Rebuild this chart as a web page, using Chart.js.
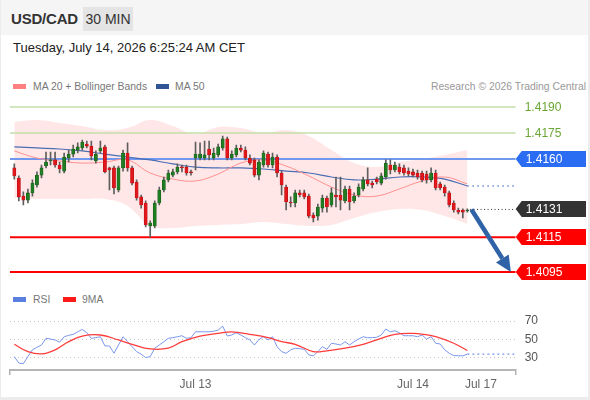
<!DOCTYPE html>
<html><head><meta charset="utf-8">
<script src="https://cdn.jsdelivr.net/npm/chart.js@4.4.1/dist/chart.umd.min.js"></script>
<style>
html,body{margin:0;padding:0;background:#ececec;}
body{width:590px;height:400px;position:relative;overflow:hidden;font-family:"Liberation Sans",Arial,sans-serif;}
#panel{position:absolute;left:1px;top:0;width:587px;height:397px;background:#fff;}
#hdr{position:absolute;left:1px;top:0;width:587px;height:35px;background:#f5f5f5;}
#sym{position:absolute;left:11px;top:10px;font-weight:bold;font-size:15px;color:#333;letter-spacing:-0.2px;}
#tf{position:absolute;left:83px;top:7px;width:50px;height:24px;background:#e4e4e4;font-size:14px;color:#333;line-height:24px;text-align:center;}
#date{position:absolute;left:13px;top:40px;font-size:13px;color:#222;}
.leg{position:absolute;font-size:10.4px;color:#777;white-space:nowrap;line-height:13px;}
.sw{position:absolute;width:13px;height:5px;}
canvas{position:absolute;left:0;}
</style></head>
<body>
<div id="panel"></div>
<div id="hdr"></div>
<div id="sym">USD/CAD</div>
<div id="tf">30 MIN</div>
<div id="date">Tuesday, July 14, 2026 6:25:24 AM CET</div>
<div class="sw" style="left:13px;top:84px;background:#ff8080;"></div>
<div class="leg" style="left:33px;top:80px;">MA 20 + Bollinger Bands</div>
<div class="sw" style="left:156px;top:84px;background:#2f5597;"></div>
<div class="leg" style="left:175px;top:80px;">MA 50</div>
<div class="leg" style="right:4px;top:80px;color:#999;">Research © 2026 Trading Central</div>
<div class="sw" style="left:13px;top:297px;background:#5b7fe0;"></div>
<div class="leg" style="left:33px;top:293px;">RSI</div>
<div class="sw" style="left:63px;top:297px;background:#ff1a1a;"></div>
<div class="leg" style="left:82px;top:293px;">9MA</div>
<canvas id="main" width="590" height="190" style="top:95px"></canvas>
<canvas id="rsiC" width="590" height="97" style="top:300px"></canvas>
<script>
// ---- data ----
const open = [1.41549,1.41491,1.41387,1.41364,1.41405,1.41451,1.41508,1.41560,1.41589,1.41595,
1.41566,1.41531,1.41606,1.41629,1.41652,1.41664,1.41687,1.41675,1.41589,1.41647,
1.41670,1.41549,1.41549,1.41422,1.41549,1.41635,1.41549,1.41468,1.41382,1.41347,
1.41215,1.41215,1.41347,1.41422,1.41480,1.41508,1.41526,1.41554,1.41554,1.41526,
1.41606,1.41606,1.41606,1.41658,1.41606,1.41624,1.41664,1.41716,1.41606,1.41624,
1.41664,1.41652,1.41606,1.41595,1.41508,1.41566,1.41629,1.41566,1.41612,1.41520,
1.41439,1.41353,1.41347,1.41405,1.41405,1.41387,1.41278,1.41272,1.41318,1.41376,
1.41336,1.41393,1.41393,1.41359,1.41428,1.41359,1.41393,1.41428,1.41480,1.41462,
1.41485,1.41462,1.41497,1.41566,1.41537,1.41554,1.41549,1.41531,1.41526,1.41520,
1.41520,1.41514,1.41480,1.41520,1.41457,1.41439,1.41405,1.41347,1.41307,1.41307,
1.41301];
const high = [1.41572,1.41503,1.41411,1.41428,1.41480,1.41526,1.41566,1.41641,1.41641,1.41641,
1.41583,1.41635,1.41652,1.41681,1.41693,1.41710,1.41704,1.41704,1.41647,1.41704,
1.41681,1.41554,1.41560,1.41560,1.41652,1.41693,1.41560,1.41480,1.41393,1.41359,
1.41244,1.41359,1.41439,1.41497,1.41537,1.41543,1.41572,1.41566,1.41566,1.41537,
1.41698,1.41693,1.41704,1.41704,1.41664,1.41687,1.41733,1.41727,1.41647,1.41681,
1.41681,1.41670,1.41624,1.41606,1.41595,1.41647,1.41641,1.41635,1.41624,1.41531,
1.41451,1.41382,1.41422,1.41422,1.41422,1.41399,1.41290,1.41341,1.41393,1.41387,
1.41434,1.41497,1.41497,1.41445,1.41445,1.41405,1.41457,1.41497,1.41549,1.41474,
1.41497,1.41520,1.41595,1.41595,1.41583,1.41572,1.41566,1.41549,1.41543,1.41537,
1.41531,1.41531,1.41549,1.41537,1.41468,1.41451,1.41416,1.41359,1.41318,1.41313,
1.41313];
const low = [1.41485,1.41359,1.41336,1.41347,1.41387,1.41439,1.41491,1.41549,1.41566,1.41554,
1.41520,1.41520,1.41583,1.41612,1.41635,1.41652,1.41664,1.41595,1.41577,1.41635,
1.41520,1.41422,1.41399,1.41411,1.41531,1.41531,1.41451,1.41364,1.41318,1.41209,
1.41151,1.41203,1.41336,1.41411,1.41468,1.41497,1.41514,1.41526,1.41508,1.41508,
1.41537,1.41595,1.41595,1.41595,1.41595,1.41612,1.41652,1.41595,1.41595,1.41612,
1.41641,1.41595,1.41566,1.41497,1.41480,1.41554,1.41554,1.41549,1.41497,1.41393,
1.41307,1.41324,1.41324,1.41382,1.41370,1.41261,1.41238,1.41249,1.41295,1.41295,
1.41324,1.41324,1.41307,1.41347,1.41307,1.41347,1.41382,1.41416,1.41445,1.41434,
1.41457,1.41451,1.41485,1.41514,1.41526,1.41514,1.41508,1.41503,1.41497,1.41485,
1.41468,1.41462,1.41468,1.41422,1.41422,1.41387,1.41324,1.41295,1.41284,1.41261,
1.41295];
const close = [1.41503,1.41382,1.41364,1.41405,1.41462,1.41508,1.41549,1.41583,1.41595,1.41566,
1.41543,1.41612,1.41629,1.41658,1.41670,1.41698,1.41675,1.41618,1.41629,1.41664,
1.41526,1.41537,1.41434,1.41549,1.41635,1.41549,1.41462,1.41376,1.41336,1.41221,
1.41232,1.41347,1.41422,1.41480,1.41520,1.41526,1.41554,1.41549,1.41520,1.41520,
1.41629,1.41629,1.41624,1.41624,1.41635,1.41670,1.41716,1.41606,1.41629,1.41664,
1.41652,1.41606,1.41577,1.41508,1.41583,1.41635,1.41566,1.41612,1.41520,1.41451,
1.41353,1.41347,1.41405,1.41393,1.41382,1.41272,1.41261,1.41324,1.41376,1.41324,
1.41405,1.41382,1.41364,1.41428,1.41353,1.41387,1.41439,1.41480,1.41457,1.41451,
1.41468,1.41503,1.41577,1.41537,1.41566,1.41526,1.41520,1.41514,1.41508,1.41497,
1.41480,1.41480,1.41520,1.41434,1.41434,1.41405,1.41336,1.41307,1.41295,1.41295,
1.41307];
// moving averages / bands, read at every 5th candle
const maIdx   = [0,5,10,15,20,25,30,35,40,45,50,55,60,65,70,75,80,85,90,95,100];
const ma20    = [1.41647,1.41606,1.41589,1.41577,1.41583,1.41595,1.41520,1.41485,1.41474,1.41514,1.41577,1.41595,1.41560,1.41503,1.41439,1.41393,1.41387,1.41428,1.41474,1.41497,1.41457];
const ma50    = [1.41670,1.41664,1.41658,1.41647,1.41629,1.41612,1.41595,1.41572,1.41554,1.41549,1.41549,1.41543,1.41531,1.41520,1.41497,1.41480,1.41485,1.41497,1.41497,1.41485,1.41445];
const bbUpper = [1.41814,1.41825,1.41808,1.41790,1.41767,1.41779,1.41825,1.41790,1.41744,1.41785,1.41779,1.41750,1.41767,1.41733,1.41652,1.41577,1.41554,1.41583,1.41601,1.41624,1.41652];
const bbLower = [1.41376,1.41370,1.41370,1.41370,1.41370,1.41330,1.41215,1.41203,1.41215,1.41221,1.41226,1.41238,1.41226,1.41215,1.41221,1.41261,1.41295,1.41313,1.41307,1.41272,1.41226];
// key levels
const resistances = [1.4190, 1.4175];
const pivot = 1.4160;
const lastPrice = 1.4131;
const supports = [1.4115, 1.4095];
// RSI panel
const rsi = [31.4,24.3,23.7,31.4,38.7,41.5,44,51.3,50.5,49.5,
47,53,54.5,55.6,58.4,61,57.4,51.3,52,53,
43,43,35,44,53,47.6,42.2,36.8,34,30.3,
31.4,40.5,44,47.6,51.3,52,53,54.1,51.3,52,
58.4,58.4,58.4,58.4,59,60.3,64.6,53.8,54.9,57.4,
54.9,52,49.5,44,50,53,49.5,53,42.2,36.8,
35,38.7,40.5,40,39.4,33.2,32.2,36.8,42.2,39.4,
45.9,45.1,44,47.6,44,47.6,50.5,53,52,52,
52.5,54.9,61.4,58.4,59.5,57.4,54.1,54.1,54.1,53,
54.9,50.5,53,45.9,45.1,38.7,35,32.5,32.3,32.2,
34];
const ma9Idx = [0,3,6,9,12,15,19,23,26,30,34,37,41,45,48,52,56,59,62,66,69,73,77,80,84,88,90,93,97,100];
const ma9    = [44.8,36.8,34.3,38.7,47.6,53.8,54.9,49.5,44.8,39.7,40.5,47.6,53.8,56.7,58.4,55.6,52,47.6,44.8,36.8,37.6,40.5,44.8,49.5,55.6,56.7,55.9,53,45.9,38];
const rsiLevels = [30, 50, 70];
const dayTickIdx = [40, 88, 103];
const dayTickLabels = ['Jul 13', 'Jul 14', 'Jul 17'];

// ---- chart ----
Chart.defaults.font.family = '"Liberation Sans", Arial, sans-serif';
const xMin = -0.95, xMax = 110.67;
const n = open.length, last = n - 1;
const idx = open.map((_, i) => i);
const isUp = idx.map(i => close[i] >= open[i]);
const pts = (xs, ys) => xs.map((x, j) => ({x, y: ys[j]}));
const hline = (v) => [{x: xMin, y: v}, {x: xMax, y: v}];
const lineDs = (data, color, w, order, extra) => Object.assign({type:'line', data, borderColor: color, borderWidth: w, pointRadius: 0, fill: false, order, tension: 0}, extra || {});

const datasets = [
  lineDs(pts(maIdx, bbUpper), 'transparent', 0, 30, {fill: '+1', backgroundColor: 'rgba(255,70,70,0.13)', tension: 0.4}),
  lineDs(pts(maIdx, bbLower), 'transparent', 0, 31, {tension: 0.4}),
  ...resistances.map(v => lineDs(hline(v), '#c3dfa9', 1.5, 20)),
  lineDs(hline(pivot), '#7098ee', 2, 20),
  ...supports.map(v => lineDs(hline(v), '#ff0000', 2, 20)),
  lineDs(pts(maIdx, ma20), '#ff8f8f', 1, 10, {tension: 0.4}),
  lineDs(pts(maIdx, ma50), '#4a6db3', 1.2, 10, {tension: 0.4}),
  lineDs([{x: last, y: ma50[ma50.length-1]}, {x: xMax, y: ma50[ma50.length-1]}], '#6a8bd6', 1.3, 10, {borderDash: [1.5, 3.5]}),
  lineDs([{x: last + 0.6, y: lastPrice}, {x: xMax, y: lastPrice}], '#333', 1, 10, {borderDash: [1, 2.5]}),
  {type:'bar', data: idx.map(i => ({x: i, y: [low[i], high[i]]})), backgroundColor: '#5e5e5e', barThickness: 1, grouped: false, order: 2},
  {type:'bar', data: idx.map(i => ({x: i, y: [open[i], close[i]]})), backgroundColor: idx.map(i => isUp[i] ? '#1f7d22' : '#e3161b'),
   borderColor: idx.map(i => isUp[i] ? '#155a17' : '#b01015'), borderWidth: 0.6, borderSkipped: false,
   barThickness: 3.2, minBarLength: 1, grouped: false, order: 1}
];

const overlay = {
  id: 'overlay',
  afterDatasetsDraw(chart) {
    const {ctx, chartArea: ca, scales: {x, y}} = chart;
    const W = chart.width;
    ctx.save();
    // forecast arrow
    const x0 = x.getPixelForValue(last + 0.9), y0 = y.getPixelForValue(lastPrice);
    const x1 = x.getPixelForValue(109.6), y1 = y.getPixelForValue(supports[1]);
    const ang = Math.atan2(y1 - y0, x1 - x0), hl = 16, hw = 7.5;
    const bx = x1 - hl * Math.cos(ang), by = y1 - hl * Math.sin(ang);
    ctx.strokeStyle = '#2f62a6'; ctx.fillStyle = '#2f62a6'; ctx.lineWidth = 4.5; ctx.lineCap = 'butt';
    ctx.beginPath(); ctx.moveTo(x0, y0); ctx.lineTo(bx, by); ctx.stroke();
    ctx.beginPath(); ctx.moveTo(x1, y1);
    ctx.lineTo(bx + hw * Math.sin(ang), by - hw * Math.cos(ang));
    ctx.lineTo(bx - hw * Math.sin(ang), by + hw * Math.cos(ang));
    ctx.closePath(); ctx.fill();
    // level labels
    ctx.font = '12px "Liberation Sans", Arial, sans-serif';
    ctx.textBaseline = 'middle';
    resistances.forEach(v => {
      ctx.fillStyle = '#6aa534';
      ctx.fillText(v.toFixed(4), ca.right + 9, y.getPixelForValue(v) + 0.5);
    });
    const tag = (v, col) => {
      const py = Math.round(y.getPixelForValue(v));
      const l = ca.right, h = 8;
      ctx.fillStyle = col;
      ctx.beginPath();
      ctx.moveTo(l, py); ctx.lineTo(l + 6, py - h); ctx.lineTo(W - 4, py - h);
      ctx.lineTo(W - 4, py + h); ctx.lineTo(l + 6, py + h); ctx.closePath(); ctx.fill();
      ctx.fillStyle = '#fff';
      ctx.fillText(v.toFixed(4), l + 10, py + 0.5);
    };
    tag(pivot, '#2a6cf2');
    tag(lastPrice, '#333333');
    supports.forEach(v => tag(v, '#ff0000'));
    ctx.restore();
  }
};

new Chart(document.getElementById('main'), {
  type: 'bar',
  data: {datasets},
  options: {
    responsive: false, animation: false, events: [],
    layout: {autoPadding: false, padding: {left: 10, right: 74.3, top: 0, bottom: 0}},
    plugins: {legend: {display: false}, tooltip: {enabled: false}},
    scales: {
      x: {type: 'linear', min: xMin, max: xMax, offset: false, display: false},
      y: {type: 'linear', min: 1.40875, max: 1.41969, display: false, beginAtZero: false}
    }
  },
  plugins: [overlay]
});

new Chart(document.getElementById('rsiC'), {
  type: 'line',
  data: {datasets: [
    lineDs(pts(idx, rsi), '#7b97ec', 1, 2),
    lineDs([{x: last, y: rsi[last]}, {x: xMax, y: rsi[last]}], '#7b97ec', 1.3, 2, {borderDash: [2, 3]}),
    lineDs(pts(ma9Idx, ma9), '#ff3c3c', 1.3, 1, {tension: 0.4})
  ]},
  options: {
    responsive: false, animation: false, events: [],
    layout: {autoPadding: false, padding: {left: 10, right: 0, top: 0, bottom: 0}},
    plugins: {legend: {display: false}, tooltip: {enabled: false}},
    scales: {
      x: {type: 'linear', min: xMin, max: xMax, offset: false,
        afterBuildTicks: s => { s.ticks = [xMin, ...dayTickIdx, xMax].map(v => ({value: v})); },
        afterFit: s => { s.height = 27; s.paddingLeft = 0; s.paddingRight = 0; },
        ticks: {autoSkip: false, maxRotation: 0, color: '#666', font: {size: 12}, padding: 2,
          callback: v => { const k = dayTickIdx.indexOf(v); return k >= 0 ? dayTickLabels[k] : ''; }},
        grid: {drawOnChartArea: false, drawTicks: true, tickLength: 5, lineWidth: 1.5,
          color: c => (c.tick && (c.tick.value === xMin || c.tick.value === xMax)) ? '#b0b0b0' : 'rgba(0,0,0,0)'},
        border: {display: true, color: '#b5b5b5', width: 2}
      },
      y: {type: 'linear', position: 'right', min: 16.76, max: 93.05,
        afterBuildTicks: s => { s.ticks = rsiLevels.map(v => ({value: v})); },
        afterFit: s => { s.width = 74.3; s.paddingTop = 0; s.paddingBottom = 0; },
        ticks: {color: '#555', font: {size: 12}, padding: 9},
        grid: {drawTicks: false, color: '#c4c4c4', lineWidth: 1},
        border: {display: false, dash: [1, 3]}
      }
    }
  }
});
</script>
</body></html>
